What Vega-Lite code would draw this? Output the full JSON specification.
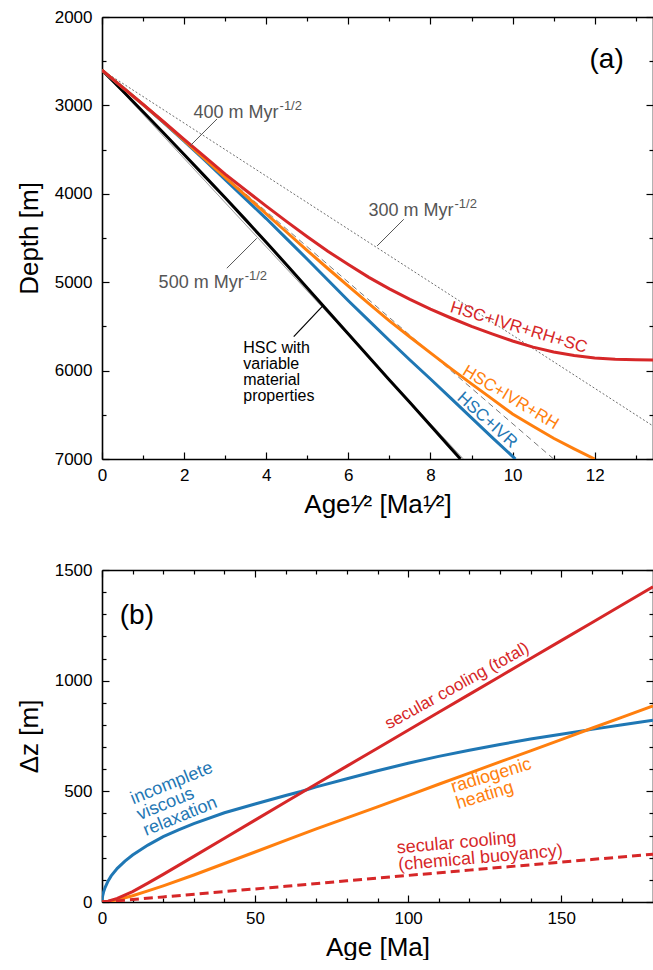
{
  "$schema": "https://vega.github.io/schema/vega-lite/v6.json",
  "padding": {"left": 16, "top": 8, "right": 0, "bottom": 0},
  "spacing": 111,
  "bounds": "flush",
  "config": {
    "font": "Liberation Sans",
    "view": {"stroke": null},
    "axis": {
      "grid": false, "domainColor": "#000", "domainWidth": 1.6, "tickColor": "#000", "tickWidth": 1.2,
      "labelFont": "Liberation Sans", "labelFontSize": 17, "labelColor": "#000", "labelFlush": false,
      "titleFont": "Liberation Sans", "titleFontSize": 26, "titleFontWeight": "normal", "titleColor": "#000"
    },
    "text": {"font": "Liberation Sans"}
  },
  "datasets": {
    "refsA": [
      {"slope": "300", "sqrt_age": 0, "depth": 2600}, {"slope": "300", "sqrt_age": 13.42, "depth": 6626},
      {"slope": "400", "sqrt_age": 0, "depth": 2600}, {"slope": "400", "sqrt_age": 11, "depth": 7000},
      {"slope": "500", "sqrt_age": 0, "depth": 2600}, {"slope": "500", "sqrt_age": 8.8, "depth": 7000}
    ],
    "curvesA": [
      {"model": "HSC", "sqrt_age": 0, "depth": 2600}, {"model": "HSC", "sqrt_age": 0.5, "depth": 2835},
      {"model": "HSC", "sqrt_age": 1, "depth": 3072}, {"model": "HSC", "sqrt_age": 1.5, "depth": 3312},
      {"model": "HSC", "sqrt_age": 2, "depth": 3555}, {"model": "HSC", "sqrt_age": 2.5, "depth": 3800},
      {"model": "HSC", "sqrt_age": 3, "depth": 4045}, {"model": "HSC", "sqrt_age": 3.5, "depth": 4295},
      {"model": "HSC", "sqrt_age": 4, "depth": 4548}, {"model": "HSC", "sqrt_age": 4.5, "depth": 4805},
      {"model": "HSC", "sqrt_age": 5, "depth": 5065}, {"model": "HSC", "sqrt_age": 5.5, "depth": 5325},
      {"model": "HSC", "sqrt_age": 6, "depth": 5585}, {"model": "HSC", "sqrt_age": 6.5, "depth": 5845},
      {"model": "HSC", "sqrt_age": 7, "depth": 6105}, {"model": "HSC", "sqrt_age": 7.5, "depth": 6362},
      {"model": "HSC", "sqrt_age": 8, "depth": 6620}, {"model": "HSC", "sqrt_age": 8.5, "depth": 6880},
      {"model": "HSC", "sqrt_age": 8.73, "depth": 7000},
      {"model": "HSC+IVR", "sqrt_age": 0, "depth": 2600}, {"model": "HSC+IVR", "sqrt_age": 0.25, "depth": 2700},
      {"model": "HSC+IVR", "sqrt_age": 0.5, "depth": 2795}, {"model": "HSC+IVR", "sqrt_age": 1, "depth": 2990},
      {"model": "HSC+IVR", "sqrt_age": 1.5, "depth": 3195}, {"model": "HSC+IVR", "sqrt_age": 2, "depth": 3405},
      {"model": "HSC+IVR", "sqrt_age": 2.5, "depth": 3620}, {"model": "HSC+IVR", "sqrt_age": 3, "depth": 3840},
      {"model": "HSC+IVR", "sqrt_age": 3.5, "depth": 4060}, {"model": "HSC+IVR", "sqrt_age": 4, "depth": 4280},
      {"model": "HSC+IVR", "sqrt_age": 4.5, "depth": 4510}, {"model": "HSC+IVR", "sqrt_age": 5, "depth": 4740},
      {"model": "HSC+IVR", "sqrt_age": 5.5, "depth": 4975}, {"model": "HSC+IVR", "sqrt_age": 6, "depth": 5210},
      {"model": "HSC+IVR", "sqrt_age": 6.5, "depth": 5435}, {"model": "HSC+IVR", "sqrt_age": 7, "depth": 5660},
      {"model": "HSC+IVR", "sqrt_age": 7.5, "depth": 5880}, {"model": "HSC+IVR", "sqrt_age": 8, "depth": 6095},
      {"model": "HSC+IVR", "sqrt_age": 8.5, "depth": 6315}, {"model": "HSC+IVR", "sqrt_age": 9, "depth": 6535},
      {"model": "HSC+IVR", "sqrt_age": 9.5, "depth": 6755}, {"model": "HSC+IVR", "sqrt_age": 10, "depth": 6970},
      {"model": "HSC+IVR", "sqrt_age": 10.07, "depth": 7000},
      {"model": "HSC+IVR+RH", "sqrt_age": 0, "depth": 2600}, {"model": "HSC+IVR+RH", "sqrt_age": 0.5, "depth": 2797},
      {"model": "HSC+IVR+RH", "sqrt_age": 1, "depth": 2990}, {"model": "HSC+IVR+RH", "sqrt_age": 1.5, "depth": 3190},
      {"model": "HSC+IVR+RH", "sqrt_age": 2, "depth": 3397}, {"model": "HSC+IVR+RH", "sqrt_age": 2.5, "depth": 3605},
      {"model": "HSC+IVR+RH", "sqrt_age": 3, "depth": 3815}, {"model": "HSC+IVR+RH", "sqrt_age": 3.5, "depth": 4020},
      {"model": "HSC+IVR+RH", "sqrt_age": 4, "depth": 4228}, {"model": "HSC+IVR+RH", "sqrt_age": 4.5, "depth": 4435},
      {"model": "HSC+IVR+RH", "sqrt_age": 5, "depth": 4642}, {"model": "HSC+IVR+RH", "sqrt_age": 5.5, "depth": 4845},
      {"model": "HSC+IVR+RH", "sqrt_age": 6, "depth": 5045}, {"model": "HSC+IVR+RH", "sqrt_age": 6.5, "depth": 5243},
      {"model": "HSC+IVR+RH", "sqrt_age": 7, "depth": 5437}, {"model": "HSC+IVR+RH", "sqrt_age": 7.5, "depth": 5620},
      {"model": "HSC+IVR+RH", "sqrt_age": 8, "depth": 5800}, {"model": "HSC+IVR+RH", "sqrt_age": 8.5, "depth": 5978},
      {"model": "HSC+IVR+RH", "sqrt_age": 9, "depth": 6150}, {"model": "HSC+IVR+RH", "sqrt_age": 9.5, "depth": 6320},
      {"model": "HSC+IVR+RH", "sqrt_age": 10, "depth": 6490}, {"model": "HSC+IVR+RH", "sqrt_age": 10.5, "depth": 6630},
      {"model": "HSC+IVR+RH", "sqrt_age": 11, "depth": 6765}, {"model": "HSC+IVR+RH", "sqrt_age": 11.5, "depth": 6885},
      {"model": "HSC+IVR+RH", "sqrt_age": 12, "depth": 7000},
      {"model": "HSC+IVR+RH+SC", "sqrt_age": 0, "depth": 2600}, {"model": "HSC+IVR+RH+SC", "sqrt_age": 0.5, "depth": 2797},
      {"model": "HSC+IVR+RH+SC", "sqrt_age": 1, "depth": 2988}, {"model": "HSC+IVR+RH+SC", "sqrt_age": 1.5, "depth": 3185},
      {"model": "HSC+IVR+RH+SC", "sqrt_age": 2, "depth": 3385}, {"model": "HSC+IVR+RH+SC", "sqrt_age": 2.5, "depth": 3580},
      {"model": "HSC+IVR+RH+SC", "sqrt_age": 3, "depth": 3778}, {"model": "HSC+IVR+RH+SC", "sqrt_age": 3.5, "depth": 3960},
      {"model": "HSC+IVR+RH+SC", "sqrt_age": 4, "depth": 4140}, {"model": "HSC+IVR+RH+SC", "sqrt_age": 4.5, "depth": 4315},
      {"model": "HSC+IVR+RH+SC", "sqrt_age": 5, "depth": 4485}, {"model": "HSC+IVR+RH+SC", "sqrt_age": 5.5, "depth": 4650},
      {"model": "HSC+IVR+RH+SC", "sqrt_age": 6, "depth": 4800}, {"model": "HSC+IVR+RH+SC", "sqrt_age": 6.5, "depth": 4945},
      {"model": "HSC+IVR+RH+SC", "sqrt_age": 7, "depth": 5075}, {"model": "HSC+IVR+RH+SC", "sqrt_age": 7.5, "depth": 5195},
      {"model": "HSC+IVR+RH+SC", "sqrt_age": 8, "depth": 5305}, {"model": "HSC+IVR+RH+SC", "sqrt_age": 8.5, "depth": 5405},
      {"model": "HSC+IVR+RH+SC", "sqrt_age": 9, "depth": 5500}, {"model": "HSC+IVR+RH+SC", "sqrt_age": 9.5, "depth": 5585},
      {"model": "HSC+IVR+RH+SC", "sqrt_age": 10, "depth": 5665}, {"model": "HSC+IVR+RH+SC", "sqrt_age": 10.5, "depth": 5735},
      {"model": "HSC+IVR+RH+SC", "sqrt_age": 11, "depth": 5790}, {"model": "HSC+IVR+RH+SC", "sqrt_age": 11.5, "depth": 5830},
      {"model": "HSC+IVR+RH+SC", "sqrt_age": 12, "depth": 5857}, {"model": "HSC+IVR+RH+SC", "sqrt_age": 12.5, "depth": 5872},
      {"model": "HSC+IVR+RH+SC", "sqrt_age": 13, "depth": 5878}, {"model": "HSC+IVR+RH+SC", "sqrt_age": 13.42, "depth": 5880}
    ],
    "leadersA": [
      {"kind": "ref", "sqrt_age": 2.80, "depth": 3154, "sqrt_age2": 2.15, "depth2": 3456},
      {"kind": "ref", "sqrt_age": 7.35, "depth": 4288, "sqrt_age2": 6.70, "depth2": 4590},
      {"kind": "ref", "sqrt_age": 3.77, "depth": 4503, "sqrt_age2": 3.04, "depth2": 4842},
      {"kind": "hsc", "sqrt_age": 5.40, "depth": 5257, "sqrt_age2": 4.67, "depth2": 5616}
    ],
    "labelsA": [
      {"role": "ref", "label": "300 m Myr", "sup": "-1/2", "sqrt_age": 8.56, "depth": 4251},
      {"role": "ref", "label": "400 m Myr", "sup": "-1/2", "sqrt_age": 4.30, "depth": 3140},
      {"role": "ref", "label": "500 m Myr", "sup": "-1/2", "sqrt_age": 3.45, "depth": 5061},
      {"role": "sc", "label": "HSC+IVR+RH+SC", "sqrt_age": 10.15, "depth": 5514},
      {"role": "rh", "label": "HSC+IVR+RH", "sqrt_age": 9.95, "depth": 6306},
      {"role": "ivr", "label": "HSC+IVR", "sqrt_age": 9.38, "depth": 6560},
      {"role": "hsc", "label": "HSC with\nvariable\nmaterial\nproperties", "sqrt_age": 3.44, "depth": 5740},
      {"role": "panel", "label": "(a)", "sqrt_age": 12.29, "depth": 2481}
    ],
    "curvesB": [
      {"component": "IVR", "age": 0, "dz": 0}, {"component": "IVR", "age": 0.1, "dz": 18},
      {"component": "IVR", "age": 0.25, "dz": 30}, {"component": "IVR", "age": 0.5, "dz": 45},
      {"component": "IVR", "age": 1, "dz": 65}, {"component": "IVR", "age": 2, "dz": 95},
      {"component": "IVR", "age": 3, "dz": 118}, {"component": "IVR", "age": 5, "dz": 152},
      {"component": "IVR", "age": 7.5, "dz": 185}, {"component": "IVR", "age": 10, "dz": 212},
      {"component": "IVR", "age": 15, "dz": 257}, {"component": "IVR", "age": 20, "dz": 295},
      {"component": "IVR", "age": 25, "dz": 326}, {"component": "IVR", "age": 30, "dz": 354},
      {"component": "IVR", "age": 40, "dz": 403}, {"component": "IVR", "age": 50, "dz": 443},
      {"component": "IVR", "age": 60, "dz": 481}, {"component": "IVR", "age": 65, "dz": 499},
      {"component": "IVR", "age": 70, "dz": 520}, {"component": "IVR", "age": 80, "dz": 557},
      {"component": "IVR", "age": 90, "dz": 593}, {"component": "IVR", "age": 100, "dz": 627},
      {"component": "IVR", "age": 110, "dz": 658}, {"component": "IVR", "age": 120, "dz": 686},
      {"component": "IVR", "age": 130, "dz": 712}, {"component": "IVR", "age": 140, "dz": 736},
      {"component": "IVR", "age": 150, "dz": 758}, {"component": "IVR", "age": 160, "dz": 780},
      {"component": "IVR", "age": 170, "dz": 801}, {"component": "IVR", "age": 180, "dz": 821},
      {"component": "RH", "age": 0, "dz": 0}, {"component": "RH", "age": 2, "dz": 2},
      {"component": "RH", "age": 5, "dz": 10}, {"component": "RH", "age": 10, "dz": 28},
      {"component": "RH", "age": 15, "dz": 50}, {"component": "RH", "age": 20, "dz": 73},
      {"component": "RH", "age": 30, "dz": 122}, {"component": "RH", "age": 40, "dz": 174},
      {"component": "RH", "age": 50, "dz": 226}, {"component": "RH", "age": 60, "dz": 278},
      {"component": "RH", "age": 70, "dz": 330}, {"component": "RH", "age": 80, "dz": 380},
      {"component": "RH", "age": 90, "dz": 430}, {"component": "RH", "age": 100, "dz": 481},
      {"component": "RH", "age": 110, "dz": 532}, {"component": "RH", "age": 120, "dz": 582},
      {"component": "RH", "age": 130, "dz": 633}, {"component": "RH", "age": 140, "dz": 683},
      {"component": "RH", "age": 150, "dz": 734}, {"component": "RH", "age": 160, "dz": 785},
      {"component": "RH", "age": 170, "dz": 835}, {"component": "RH", "age": 180, "dz": 886},
      {"component": "SC total", "age": 0, "dz": 0}, {"component": "SC total", "age": 2, "dz": 4},
      {"component": "SC total", "age": 5, "dz": 16}, {"component": "SC total", "age": 10, "dz": 47},
      {"component": "SC total", "age": 15, "dz": 85}, {"component": "SC total", "age": 20, "dz": 125},
      {"component": "SC total", "age": 30, "dz": 206}, {"component": "SC total", "age": 40, "dz": 288},
      {"component": "SC total", "age": 50, "dz": 370}, {"component": "SC total", "age": 60, "dz": 452},
      {"component": "SC total", "age": 70, "dz": 533}, {"component": "SC total", "age": 80, "dz": 614},
      {"component": "SC total", "age": 90, "dz": 695}, {"component": "SC total", "age": 100, "dz": 776},
      {"component": "SC total", "age": 110, "dz": 857}, {"component": "SC total", "age": 120, "dz": 938},
      {"component": "SC total", "age": 130, "dz": 1019}, {"component": "SC total", "age": 140, "dz": 1100},
      {"component": "SC total", "age": 150, "dz": 1181}, {"component": "SC total", "age": 160, "dz": 1262},
      {"component": "SC total", "age": 170, "dz": 1343}, {"component": "SC total", "age": 180, "dz": 1424},
      {"component": "SC chemical", "age": 0, "dz": 0}, {"component": "SC chemical", "age": 10, "dz": 11},
      {"component": "SC chemical", "age": 20, "dz": 23}, {"component": "SC chemical", "age": 40, "dz": 47},
      {"component": "SC chemical", "age": 60, "dz": 71}, {"component": "SC chemical", "age": 80, "dz": 96},
      {"component": "SC chemical", "age": 100, "dz": 120}, {"component": "SC chemical", "age": 120, "dz": 144},
      {"component": "SC chemical", "age": 140, "dz": 168}, {"component": "SC chemical", "age": 160, "dz": 192},
      {"component": "SC chemical", "age": 180, "dz": 216}
    ],
    "labelsB": [
      {"role": "panel", "label": "(b)", "age": 11.4, "dz": 1292},
      {"role": "ivr", "label": "incomplete\nviscous\nrelaxation", "age": 9.6, "dz": 462},
      {"role": "rh", "label": "radiogenic\nheating", "age": 114.2, "dz": 515},
      {"role": "sctotal", "label": "secular cooling (total)", "age": 116, "dz": 976},
      {"role": "scchem", "label": "secular cooling\n(chemical buoyancy)", "age": 96.3, "dz": 242}
    ]
  },
  "vconcat": [
    {
      "width": 551, "height": 442,
      "resolve": {"axis": {"x": "independent", "y": "independent"}},
      "layer": [
        {
          "data": {"name": "refsA"},
          "mark": {"type": "line", "strokeWidth": 1, "clip": true},
          "encoding": {
            "x": {"field": "sqrt_age", "type": "quantitative", "scale": {"domain": [0, 13.42], "nice": false, "zero": false},
                  "axis": {"orient": "bottom", "values": [0, 2, 4, 6, 8, 10, 12], "format": "d", "tickSize": -7, "labelPadding": 15, "title": "Age¹⁄² [Ma¹⁄²]", "titlePadding": 8}},
            "y": {"field": "depth", "type": "quantitative", "scale": {"domain": [2000, 7000], "reverse": true, "nice": false, "zero": false},
                  "axis": {"orient": "left", "values": [2000, 3000, 4000, 5000, 6000, 7000], "format": "d", "tickSize": -7, "labelPadding": 17, "title": "Depth [m]", "titlePadding": 12}},
            "color": {"field": "slope", "type": "nominal", "scale": {"domain": ["300", "400", "500"], "range": ["#6e6e6e", "#7a7a7a", "#8a8a8a"]}, "legend": null},
            "strokeDash": {"field": "slope", "type": "nominal", "scale": {"domain": ["300", "400", "500"], "range": [[2, 2], [6, 4], [1, 0]]}, "legend": null}
          }
        },
        {
          "data": {"name": "curvesA"},
          "transform": [{"filter": "datum.model == 'HSC'"}],
          "mark": {"type": "line", "color": "#000000", "strokeWidth": 3, "clip": true},
          "encoding": {
            "x": {"field": "sqrt_age", "type": "quantitative", "axis": {"orient": "top", "values": [0, 2, 4, 6, 8, 10, 12], "tickSize": -7, "labels": false, "title": null}},
            "y": {"field": "depth", "type": "quantitative", "axis": {"orient": "right", "values": [2000, 3000, 4000, 5000, 6000, 7000], "tickSize": -7, "labels": false, "title": null}}
          }
        },
        {
          "data": {"name": "curvesA"},
          "transform": [{"filter": "datum.model == 'HSC+IVR'"}],
          "mark": {"type": "line", "color": "#1f77b4", "strokeWidth": 3, "clip": true},
          "encoding": {
            "x": {"field": "sqrt_age", "type": "quantitative", "axis": {"orient": "bottom", "values": [1, 3, 5, 7, 9, 11, 13], "tickSize": -4, "labels": false, "domain": false, "title": null}},
            "y": {"field": "depth", "type": "quantitative", "axis": {"orient": "left", "values": [2500, 3500, 4500, 5500, 6500], "tickSize": -4, "labels": false, "domain": false, "title": null}}
          }
        },
        {
          "data": {"name": "curvesA"},
          "transform": [{"filter": "datum.model == 'HSC+IVR+RH'"}],
          "mark": {"type": "line", "color": "#ff7f0e", "strokeWidth": 3, "clip": true},
          "encoding": {
            "x": {"field": "sqrt_age", "type": "quantitative", "axis": {"orient": "top", "values": [1, 3, 5, 7, 9, 11, 13], "tickSize": -4, "labels": false, "domain": false, "title": null}},
            "y": {"field": "depth", "type": "quantitative", "axis": {"orient": "right", "values": [2500, 3500, 4500, 5500, 6500], "tickSize": -4, "labels": false, "domain": false, "title": null}}
          }
        },
        {
          "data": {"name": "curvesA"},
          "transform": [{"filter": "datum.model == 'HSC+IVR+RH+SC'"}],
          "mark": {"type": "line", "color": "#d62728", "strokeWidth": 3, "clip": true},
          "encoding": {
            "x": {"field": "sqrt_age", "type": "quantitative", "axis": null},
            "y": {"field": "depth", "type": "quantitative", "axis": null}
          }
        },
        {
          "data": {"name": "leadersA"},
          "transform": [{"filter": "datum.kind == 'ref'"}],
          "mark": {"type": "rule", "color": "#555555", "strokeWidth": 1},
          "encoding": {
            "x": {"field": "sqrt_age", "type": "quantitative", "axis": null},
            "y": {"field": "depth", "type": "quantitative", "axis": null},
            "x2": {"field": "sqrt_age2"},
            "y2": {"field": "depth2"}
          }
        },
        {
          "data": {"name": "leadersA"},
          "transform": [{"filter": "datum.kind == 'hsc'"}],
          "mark": {"type": "rule", "color": "#000000", "strokeWidth": 1.2},
          "encoding": {
            "x": {"field": "sqrt_age", "type": "quantitative", "axis": null},
            "y": {"field": "depth", "type": "quantitative", "axis": null},
            "x2": {"field": "sqrt_age2"},
            "y2": {"field": "depth2"}
          }
        },
        {
          "data": {"name": "labelsA"},
          "transform": [{"filter": "datum.role == 'ref'"}],
          "mark": {"type": "text", "align": "right", "baseline": "alphabetic", "fontSize": 18, "color": "#555555"},
          "encoding": {
            "x": {"field": "sqrt_age", "type": "quantitative", "axis": null},
            "y": {"field": "depth", "type": "quantitative", "axis": null},
            "text": {"field": "label"}
          }
        },
        {
          "data": {"name": "labelsA"},
          "transform": [{"filter": "datum.role == 'ref'"}],
          "mark": {"type": "text", "align": "left", "baseline": "alphabetic", "fontSize": 13, "dx": 1, "dy": -8, "color": "#555555"},
          "encoding": {
            "x": {"field": "sqrt_age", "type": "quantitative", "axis": null},
            "y": {"field": "depth", "type": "quantitative", "axis": null},
            "text": {"field": "sup"}
          }
        },
        {
          "data": {"name": "labelsA"},
          "transform": [{"filter": "datum.role == 'sc'"}],
          "mark": {"type": "text", "align": "center", "baseline": "middle", "fontSize": 17, "angle": 17, "color": "#d62728"},
          "encoding": {
            "x": {"field": "sqrt_age", "type": "quantitative", "axis": null},
            "y": {"field": "depth", "type": "quantitative", "axis": null},
            "text": {"field": "label"}
          }
        },
        {
          "data": {"name": "labelsA"},
          "transform": [{"filter": "datum.role == 'rh'"}],
          "mark": {"type": "text", "align": "center", "baseline": "middle", "fontSize": 17, "angle": 31, "color": "#ff7f0e"},
          "encoding": {
            "x": {"field": "sqrt_age", "type": "quantitative", "axis": null},
            "y": {"field": "depth", "type": "quantitative", "axis": null},
            "text": {"field": "label"}
          }
        },
        {
          "data": {"name": "labelsA"},
          "transform": [{"filter": "datum.role == 'ivr'"}],
          "mark": {"type": "text", "align": "center", "baseline": "middle", "fontSize": 17, "angle": 42, "color": "#1f77b4"},
          "encoding": {
            "x": {"field": "sqrt_age", "type": "quantitative", "axis": null},
            "y": {"field": "depth", "type": "quantitative", "axis": null},
            "text": {"field": "label"}
          }
        },
        {
          "data": {"name": "labelsA"},
          "transform": [{"filter": "datum.role == 'hsc'"}],
          "mark": {"type": "text", "align": "left", "baseline": "middle", "fontSize": 16, "lineHeight": 16, "lineBreak": "\n", "color": "#000000"},
          "encoding": {
            "x": {"field": "sqrt_age", "type": "quantitative", "axis": null},
            "y": {"field": "depth", "type": "quantitative", "axis": null},
            "text": {"field": "label"}
          }
        },
        {
          "data": {"name": "labelsA"},
          "transform": [{"filter": "datum.role == 'panel'"}],
          "mark": {"type": "text", "align": "center", "baseline": "middle", "fontSize": 28, "color": "#000000"},
          "encoding": {
            "x": {"field": "sqrt_age", "type": "quantitative", "axis": null},
            "y": {"field": "depth", "type": "quantitative", "axis": null},
            "text": {"field": "label"}
          }
        }
      ]
    },
    {
      "width": 551, "height": 332,
      "resolve": {"axis": {"x": "independent", "y": "independent"}},
      "layer": [
        {
          "data": {"name": "curvesB"},
          "transform": [{"filter": "datum.component == 'IVR'"}],
          "mark": {"type": "line", "color": "#1f77b4", "strokeWidth": 3, "clip": true},
          "encoding": {
            "x": {"field": "age", "type": "quantitative", "scale": {"domain": [0, 180], "nice": false, "zero": false},
                  "axis": {"orient": "bottom", "values": [0, 50, 100, 150], "format": "d", "tickSize": -7, "labelPadding": 15, "title": "Age [Ma]", "titlePadding": 8}},
            "y": {"field": "dz", "type": "quantitative", "scale": {"domain": [0, 1500], "nice": false, "zero": false},
                  "axis": {"orient": "left", "values": [0, 500, 1000, 1500], "format": "d", "tickSize": -7, "labelPadding": 17, "title": "Δz [m]", "titlePadding": 12}}
          }
        },
        {
          "data": {"name": "curvesB"},
          "transform": [{"filter": "datum.component == 'RH'"}],
          "mark": {"type": "line", "color": "#ff7f0e", "strokeWidth": 3, "clip": true},
          "encoding": {
            "x": {"field": "age", "type": "quantitative", "axis": {"orient": "top", "values": [0, 50, 100, 150], "tickSize": -7, "labels": false, "title": null}},
            "y": {"field": "dz", "type": "quantitative", "axis": {"orient": "right", "values": [0, 500, 1000, 1500], "tickSize": -7, "labels": false, "title": null}}
          }
        },
        {
          "data": {"name": "curvesB"},
          "transform": [{"filter": "datum.component == 'SC chemical'"}],
          "mark": {"type": "line", "color": "#d62728", "strokeWidth": 3, "strokeDash": [9, 5], "clip": true},
          "encoding": {
            "x": {"field": "age", "type": "quantitative", "axis": {"orient": "bottom", "values": [10, 20, 30, 40, 60, 70, 80, 90, 110, 120, 130, 140, 160, 170], "tickSize": -4, "labels": false, "domain": false, "title": null}},
            "y": {"field": "dz", "type": "quantitative", "axis": {"orient": "left", "values": [100, 200, 300, 400, 600, 700, 800, 900, 1100, 1200, 1300, 1400], "tickSize": -4, "labels": false, "domain": false, "title": null}}
          }
        },
        {
          "data": {"name": "curvesB"},
          "transform": [{"filter": "datum.component == 'SC total'"}],
          "mark": {"type": "line", "color": "#d62728", "strokeWidth": 3, "clip": true},
          "encoding": {
            "x": {"field": "age", "type": "quantitative", "axis": {"orient": "top", "values": [10, 20, 30, 40, 60, 70, 80, 90, 110, 120, 130, 140, 160, 170], "tickSize": -4, "labels": false, "domain": false, "title": null}},
            "y": {"field": "dz", "type": "quantitative", "axis": {"orient": "right", "values": [100, 200, 300, 400, 600, 700, 800, 900, 1100, 1200, 1300, 1400], "tickSize": -4, "labels": false, "domain": false, "title": null}}
          }
        },
        {
          "data": {"name": "labelsB"},
          "transform": [{"filter": "datum.role == 'panel'"}],
          "mark": {"type": "text", "align": "center", "baseline": "middle", "fontSize": 28, "color": "#000000"},
          "encoding": {
            "x": {"field": "age", "type": "quantitative", "axis": null},
            "y": {"field": "dz", "type": "quantitative", "axis": null},
            "text": {"field": "label"}
          }
        },
        {
          "data": {"name": "labelsB"},
          "transform": [{"filter": "datum.role == 'ivr'"}],
          "mark": {"type": "text", "align": "left", "baseline": "middle", "fontSize": 18, "lineHeight": 17, "lineBreak": "\n", "angle": 338, "color": "#1f77b4"},
          "encoding": {
            "x": {"field": "age", "type": "quantitative", "axis": null},
            "y": {"field": "dz", "type": "quantitative", "axis": null},
            "text": {"field": "label"}
          }
        },
        {
          "data": {"name": "labelsB"},
          "transform": [{"filter": "datum.role == 'rh'"}],
          "mark": {"type": "text", "align": "left", "baseline": "middle", "fontSize": 18, "lineHeight": 17, "lineBreak": "\n", "angle": 343, "color": "#ff7f0e"},
          "encoding": {
            "x": {"field": "age", "type": "quantitative", "axis": null},
            "y": {"field": "dz", "type": "quantitative", "axis": null},
            "text": {"field": "label"}
          }
        },
        {
          "data": {"name": "labelsB"},
          "transform": [{"filter": "datum.role == 'sctotal'"}],
          "mark": {"type": "text", "align": "center", "baseline": "middle", "fontSize": 17, "angle": 331, "color": "#d62728"},
          "encoding": {
            "x": {"field": "age", "type": "quantitative", "axis": null},
            "y": {"field": "dz", "type": "quantitative", "axis": null},
            "text": {"field": "label"}
          }
        },
        {
          "data": {"name": "labelsB"},
          "transform": [{"filter": "datum.role == 'scchem'"}],
          "mark": {"type": "text", "align": "left", "baseline": "middle", "fontSize": 18, "lineHeight": 17, "lineBreak": "\n", "angle": 355, "color": "#d62728"},
          "encoding": {
            "x": {"field": "age", "type": "quantitative", "axis": null},
            "y": {"field": "dz", "type": "quantitative", "axis": null},
            "text": {"field": "label"}
          }
        }
      ]
    }
  ]
}
